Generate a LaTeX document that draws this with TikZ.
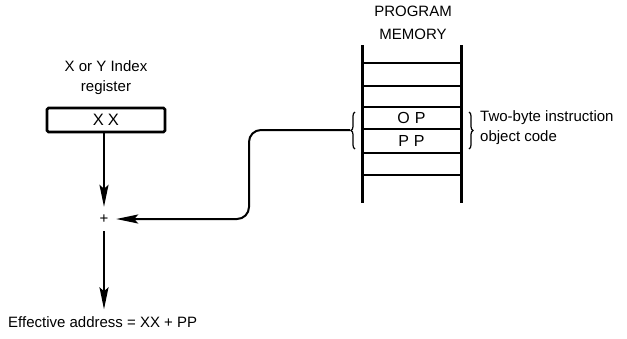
\documentclass[tikz,border=0pt]{standalone}
\usepackage{fontspec}
\setmainfont{Liberation Sans}
\usetikzlibrary{arrows.meta,positioning,calc,decorations.pathreplacing}
\tikzset{
  lbl/.style={font=\fontsize{15}{20}\selectfont,align=center,inner sep=0pt},
  regbox/.style={draw,line width=2.8pt,rounded corners=1.5pt,minimum width=118pt,
    minimum height=24pt,inner sep=0pt,font=\fontsize{16.5}{18}\selectfont},
  sum/.style={lbl,minimum size=24pt},
  cell/.style={minimum width=97pt,minimum height=22pt,inner sep=0pt,
    font=\fontsize{16}{18}\selectfont},
  rail/.style={line width=3pt},
  rung/.style={line width=2pt},
  arr/.style={-{Stealth[length=22pt,width=9pt,inset=4pt]},line width=2pt},
  brc/.style={decorate,decoration={brace,amplitude=4pt},line width=1.2pt},
}

\begin{document}
\begin{tikzpicture}[x=1pt,y=-1pt]
  \useasboundingbox (0,0) rectangle (627,338);
  % index register and sum
  \node[regbox] (xx) at (106,120) {X\hspace{4pt}X};
  \node[lbl,above=12pt of xx] (regname) {X or Y Index\\register};
  \node[sum] (plus) at (104,219) {+};
  \node[lbl,anchor=west] (ea) at (8,322)
    {Effective address = XX + PP};
  \draw[arr] (xx.south -| plus) -- (plus.north);
  \draw[arr,shorten >=7pt] (plus.south) -- (plus |- ea.north);

  % program memory
  \draw[rail] (362,45) -- (362,203);
  \draw[rail] (461,45) -- (461,203);
  \foreach \y in {63,86,107,129,153,175}
    \draw[rung] (362,\y) -- (461,\y);
  \node[cell] (op) at (411.5,118) {O\hspace{5pt}P};
  \node[cell] (pp) at (411.5,141) {P\hspace{5pt}P};
  \node[lbl] (memname) at (413,23) {PROGRAM\\[3pt]MEMORY};

  % braces round the two bytes
  \draw[brc] (355,149) -- (355,112);
  \draw[brc] (469,112) -- (469,149);
  \coordinate (lb) at (350,130);
  \node[lbl,align=left,anchor=west] (objcode) at (480,128)
    {Two-byte instruction\\object code};

  % offset into the adder
  \coordinate (bend) at (249,219);
  \draw[arr,rounded corners=12pt] (lb) -| (bend) -- (plus.east);
\end{tikzpicture}
\end{document}
